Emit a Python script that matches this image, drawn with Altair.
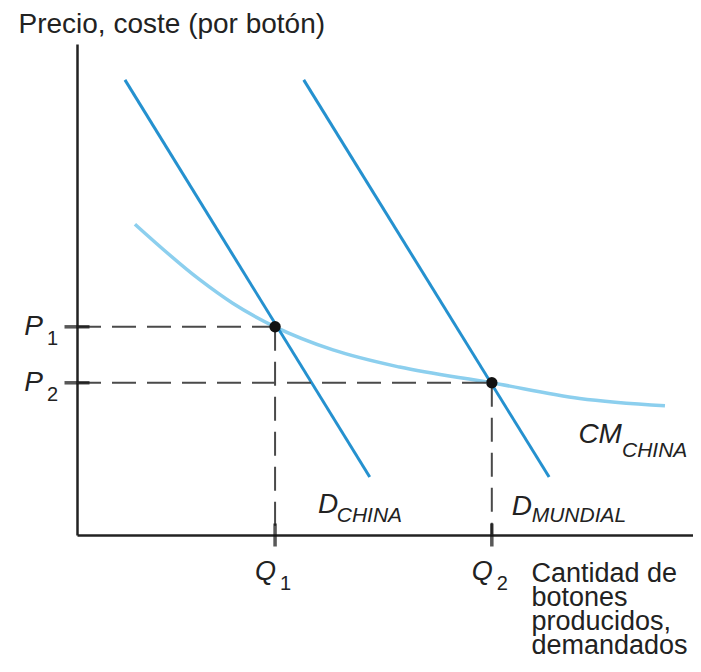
import altair as alt
import pandas as pd

# ---- data (in chart units: quantity, price) ----
d_china_x = [0.77, 4.70]
d_china_y = [9.27, 1.18]
d_mundial_x = [3.64, 7.58]
d_mundial_y = [9.27, 1.18]

cm_x = [0.93, 1.97, 2.50, 3.18, 4.11, 5.18, 6.66, 8.07, 9.44]
cm_y = [6.33, 5.20, 4.72, 4.24, 3.77, 3.42, 3.10, 2.78, 2.63]

q_vals = [3.18, 6.66]
p_vals = [4.24, 3.10]
eq_subs = ["1", "2"]

curve_main_text = ["D", "D", "CM"]
curve_main_x = [3.87, 6.98, 8.05]
curve_main_y = [0.45, 0.41, 1.87]
curve_sub_text = ["CHINA", "MUNDIAL", "CHINA"]
curve_sub_x = [4.17, 7.30, 8.75]
curve_sub_y = [0.265, 0.265, 1.59]

y_title = "Precio, coste (por botón)"
x_title = ["Cantidad de", "botones", "producidos,", "demandados"]

FONT = "Liberation Sans"
TXT = "#222222"
DARK_BLUE = "#2591cf"
LIGHT_BLUE = "#8ccfee"

xs = alt.Scale(domain=[0, 9.89], nice=False, zero=False)
ys = alt.Scale(domain=[0, 10], nice=False, zero=False)

axis_common = dict(ticks=False, labels=False, grid=False, domain=True, domainColor="#222222",
                   domainWidth=2.5, titleFont=FONT,
                   titleFontWeight="normal", titleColor=TXT, titleAngle=0,
                   titleAlign="left", titleBaseline="alphabetic")

cm_df = pd.DataFrame({"x": cm_x, "y": cm_y})
cm_layer = alt.Chart(cm_df).mark_line(color=LIGHT_BLUE, strokeWidth=3.5, interpolate="monotone").encode(
    x=alt.X("x:Q", scale=xs, axis=alt.Axis(title=x_title, titleX=454, titleY=46, titleFontSize=27,
                                             titleLineHeight=24, **axis_common)),
    y=alt.Y("y:Q", scale=ys, axis=alt.Axis(title=y_title, titleX=-59, titleY=-12, titleFontSize=28,
                                             **axis_common)),
)

dem_df = pd.DataFrame({
    "x": d_china_x + d_mundial_x,
    "y": d_china_y + d_mundial_y,
    "s": ["china"] * 2 + ["mundial"] * 2,
})
dem_layer = alt.Chart(dem_df).mark_line(color=DARK_BLUE, strokeWidth=3).encode(
    x=alt.X("x:Q", scale=xs),
    y=alt.Y("y:Q", scale=ys),
    detail="s:N",
)

eq_df = pd.DataFrame({"q": q_vals, "p": p_vals, "sub": eq_subs, "zero": [0, 0]})

h_guides = alt.Chart(eq_df).mark_rule(color="#4a4a4a", strokeWidth=2, strokeDash=[24, 11]).encode(
    x=alt.X("zero:Q", scale=xs), x2="q:Q",
    y=alt.Y("p:Q", scale=ys),
)
v_guides = alt.Chart(eq_df).mark_rule(color="#4a4a4a", strokeWidth=2, strokeDash=[24, 11]).encode(
    x=alt.X("q:Q", scale=xs),
    y=alt.Y("p:Q", scale=ys), y2="zero:Q",
)

y_ticks = alt.Chart(eq_df).mark_tick(orient="horizontal", size=25, thickness=3.5, color="#111111").encode(
    x=alt.X("zero:Q", scale=xs),
    y=alt.Y("p:Q", scale=ys),
)
x_ticks = alt.Chart(eq_df).mark_tick(orient="vertical", size=23, thickness=3.5, color="#111111").encode(
    x=alt.X("q:Q", scale=xs),
    y=alt.Y("zero:Q", scale=ys),
)

points = alt.Chart(eq_df).mark_point(filled=True, color="#111111", size=130, opacity=1).encode(
    x=alt.X("q:Q", scale=xs),
    y=alt.Y("p:Q", scale=ys),
)

p_main = alt.Chart(eq_df).mark_text(text="P", font=FONT, fontSize=28, fontStyle="italic", color=TXT,
                                    align="right", baseline="alphabetic", dx=-34, dy=8).encode(
    x=alt.X("zero:Q", scale=xs), y=alt.Y("p:Q", scale=ys))
p_sub = alt.Chart(eq_df).mark_text(font=FONT, fontSize=20, color=TXT,
                                   align="left", baseline="alphabetic", dx=-30, dy=18).encode(
    x=alt.X("zero:Q", scale=xs), y=alt.Y("p:Q", scale=ys), text="sub:N")
q_main = alt.Chart(eq_df).mark_text(text="Q", font=FONT, fontSize=27, fontStyle="italic", color=TXT,
                                    align="right", baseline="alphabetic", dx=1, dy=45).encode(
    x=alt.X("q:Q", scale=xs), y=alt.Y("zero:Q", scale=ys))
q_sub = alt.Chart(eq_df).mark_text(font=FONT, fontSize=20, color=TXT,
                                   align="left", baseline="alphabetic", dx=5, dy=55).encode(
    x=alt.X("q:Q", scale=xs), y=alt.Y("zero:Q", scale=ys), text="sub:N")

cmain_df = pd.DataFrame({"x": curve_main_x, "y": curve_main_y, "t": curve_main_text})
csub_df = pd.DataFrame({"x": curve_sub_x, "y": curve_sub_y, "t": curve_sub_text})
c_main = alt.Chart(cmain_df).mark_text(font=FONT, fontSize=28, fontStyle="italic", color=TXT,
                                       align="left", baseline="alphabetic").encode(
    x=alt.X("x:Q", scale=xs), y=alt.Y("y:Q", scale=ys), text="t:N")
c_sub = alt.Chart(csub_df).mark_text(font=FONT, fontSize=21, fontStyle="italic", color=TXT,
                                     align="left", baseline="alphabetic").encode(
    x=alt.X("x:Q", scale=xs), y=alt.Y("y:Q", scale=ys), text="t:N")

chart = alt.layer(
    cm_layer, dem_layer, h_guides, v_guides, y_ticks, x_ticks, points,
    p_main, p_sub, q_main, q_sub, c_main, c_sub,
).properties(
    width=616, height=491,
    padding={"left": 69, "top": 36, "right": 0, "bottom": 125},
    autosize=alt.AutoSizeParams(type="none"),
    background="white",
).configure_view(strokeWidth=0)

chart.save("out.html", embed_options={"renderer": "svg", "actions": False})
